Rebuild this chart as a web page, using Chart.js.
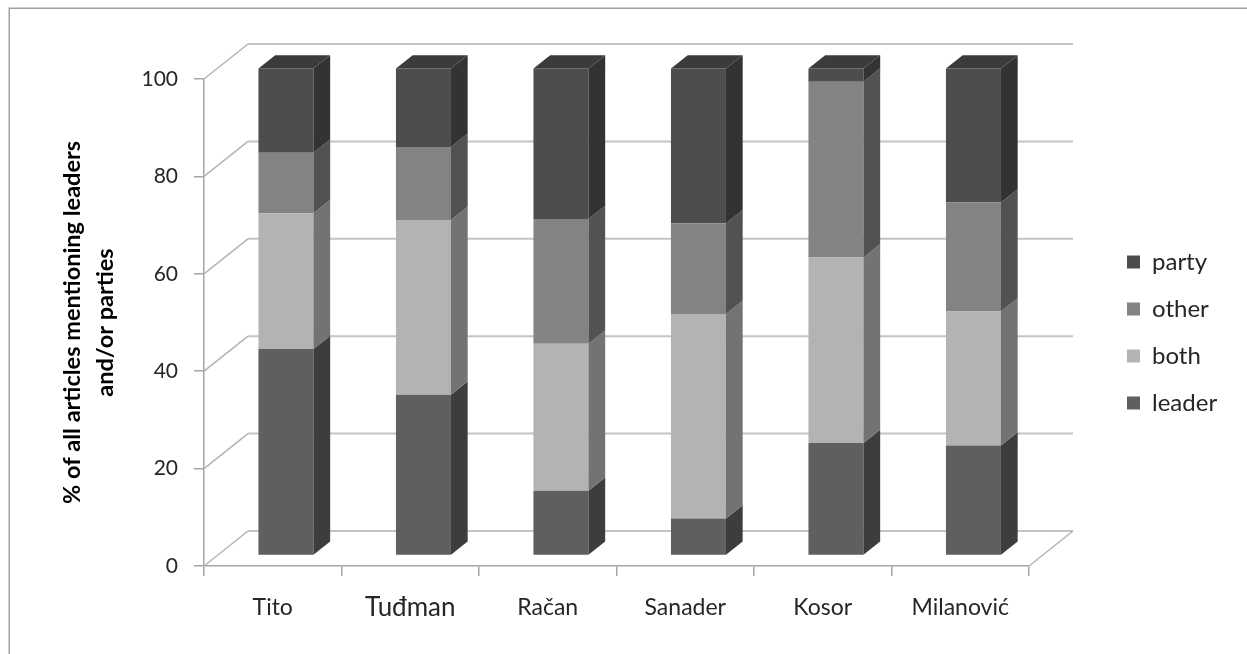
<!DOCTYPE html>
<html>
<head>
<meta charset="utf-8">
<title>Leaders and parties in articles</title>
<script src="https://cdn.jsdelivr.net/npm/chart.js@4.4.1/dist/chart.umd.min.js"></script>
<style>
  html, body { margin: 0; padding: 0; background: #ffffff; }
  canvas { display: block; }
</style>
</head>
<body>
<canvas id="chart" width="1247" height="654"></canvas>
<script>
// ---- data -------------------------------------------------------------
const categories = ['Tito', 'Tuđman', 'Račan', 'Sanader', 'Kosor', 'Milanović'];
const leader = [42.4, 33.0, 13.3, 7.6, 23.1, 22.6];
const both   = [27.9, 35.9, 30.2, 42.0, 38.1, 27.5];
const other  = [12.4, 15.0, 25.6, 18.6, 36.1, 22.4];
const party  = [17.3, 16.1, 30.9, 31.8, 2.7, 27.5];
const seriesNames = ['leader', 'both', 'other', 'party'];
const yRange = [0, 100];
const yStep = 20;
const yTitle = ['% of all articles mentioning leaders', 'and/or parties'];

// ---- styles -----------------------------------------------------------
const FACES = {
  leader: { front: '#5f5f5f', side: '#3d3d3d', top: '#474747' },
  both:   { front: '#b3b3b3', side: '#737373', top: '#8e8e8e' },
  other:  { front: '#838383', side: '#525252', top: '#666666' },
  party:  { front: '#4d4d4d', side: '#333333', top: '#3b3b3b' }
};
const FONT = 'Lato';
const TEXT = '#262626';
const AXIS = '#a6a6a6';
const GRID = '#c4c4c4';
// depth of the plot box; bars sit between the two depth fractions
const DEPTH = { dx: 44, dy: -35, front: 0.30, back: 0.68 };
const LABEL_SIZE = 23;
const BIG_LABELS = { 'Tuđman': 26 };

// plot box and legend placement (pixels)
const PLOT_RIGHT = 1028;
const LEGEND_BOX_LEFT = 1137;
const LEGEND = { size: 24, box: 13, padding: 23 };
const LEGEND_EXTRA = 11;

function seg(ctx, x1, y1, x2, y2) {
  ctx.beginPath();
  ctx.moveTo(x1, y1);
  ctx.lineTo(x2, y2);
  ctx.stroke();
}

const depthPlugin = {
  id: 'depthBox',
  beforeDraw(chart) {
    const { ctx } = chart;
    ctx.save();
    ctx.fillStyle = '#ffffff';
    ctx.fillRect(0, 0, chart.width, chart.height);
    ctx.strokeStyle = '#a0a0a0';
    ctx.lineWidth = 1.5;
    ctx.strokeRect(9.25, 8.25, chart.width + 40, chart.height + 40);
    ctx.restore();
  },
  beforeDatasetsDraw(chart) {
    const { ctx, chartArea: a, scales: { y } } = chart;
    const { dx, dy } = DEPTH;
    ctx.save();
    y.ticks.forEach(t => {
      const py = y.getPixelForValue(t.value);
      ctx.strokeStyle = GRID;
      ctx.lineWidth = 2;
      seg(ctx, a.left + dx, py + dy, a.right + dx, py + dy);
      ctx.strokeStyle = '#b4b4b4';
      ctx.lineWidth = 1.5;
      seg(ctx, a.left, py, a.left + dx, py + dy);
    });
    ctx.strokeStyle = '#b4b4b4';
    ctx.lineWidth = 1.5;
    seg(ctx, a.right, a.bottom, a.right + dx, a.bottom + dy);
    ctx.restore();
  },
  beforeDatasetDraw(chart) {
    const { ctx } = chart;
    ctx.save();
    ctx.translate(DEPTH.dx * DEPTH.front, DEPTH.dy * DEPTH.front);
  },
  afterDatasetDraw(chart) {
    chart.ctx.restore();
  },
  afterDatasetsDraw(chart) {
    const { ctx } = chart;
    const span = DEPTH.back - DEPTH.front;
    const ddx = DEPTH.dx * span, ddy = DEPTH.dy * span;
    ctx.save();
    ctx.translate(DEPTH.dx * DEPTH.front, DEPTH.dy * DEPTH.front);
    const topmost = [];
    chart.data.datasets.forEach((ds, di) => {
      const meta = chart.getDatasetMeta(di);
      const face = FACES[seriesNames[di]];
      meta.data.forEach((el, i) => {
        const { x, y, base, width } = el.getProps(['x', 'y', 'base', 'width'], true);
        const right = x + width / 2;
        if (Math.abs(base - y) > 0) {
          ctx.fillStyle = face.side;
          ctx.beginPath();
          ctx.moveTo(right, y);
          ctx.lineTo(right + ddx, y + ddy);
          ctx.lineTo(right + ddx, base + ddy);
          ctx.lineTo(right, base);
          ctx.closePath();
          ctx.fill();
          topmost[i] = { x, y, width, face };
        }
      });
    });
    topmost.forEach(t => {
      if (!t) return;
      const left = t.x - t.width / 2, right = t.x + t.width / 2;
      ctx.fillStyle = t.face.top;
      ctx.beginPath();
      ctx.moveTo(left, t.y);
      ctx.lineTo(left + ddx, t.y + ddy);
      ctx.lineTo(right + ddx, t.y + ddy);
      ctx.lineTo(right, t.y);
      ctx.closePath();
      ctx.fill();
    });
    ctx.restore();
  }
};

function build() {
  const canvas = document.getElementById('chart');
  const values = { leader, both, other, party };

  // legend column width: box + half font + widest text
  const mctx = canvas.getContext('2d');
  mctx.font = LEGEND.size + 'px ' + FONT;
  const widest = Math.max(...seriesNames.map(n => mctx.measureText(n).width));
  const colWidth = LEGEND.box + LEGEND.size / 2 + widest;
  const padRight = canvas.width - LEGEND_BOX_LEFT - colWidth;
  const rightGap = LEGEND_BOX_LEFT - LEGEND.padding - PLOT_RIGHT - LEGEND_EXTRA;

  const labelFont = c => {
    const big = BIG_LABELS[categories[c.index]];
    return big
      ? { family: FONT, size: big, lineHeight: (LABEL_SIZE * 1.2) / big }
      : { family: FONT, size: LABEL_SIZE, lineHeight: 1.2 };
  };

  new Chart(canvas, {
    type: 'bar',
    data: {
      labels: categories,
      datasets: seriesNames.map(name => ({
        label: name,
        data: values[name],
        backgroundColor: FACES[name].front,
        borderWidth: 0,
        clip: false,
        barPercentage: 0.4,
        categoryPercentage: 1.0
      }))
    },
    options: {
      responsive: false,
      animation: false,
      events: [],
      layout: { padding: { top: 79, left: 0, bottom: 28, right: padRight } },
      font: { family: FONT },
      scales: {
        x: {
          stacked: true,
          offset: true,
          grid: { offset: true, drawOnChartArea: false, drawTicks: true, tickLength: 10, color: AXIS, lineWidth: 1.5 },
          border: { display: true, color: AXIS, width: 1.5 },
          ticks: { autoSkip: false, maxRotation: 0, padding: 18, color: TEXT, font: labelFont },
          afterFit(s) { s.height = 60; }
        },
        y: {
          stacked: true,
          min: yRange[0],
          max: yRange[1],
          grid: { drawOnChartArea: false, drawTicks: true, tickLength: 10, color: AXIS, lineWidth: 1.5 },
          border: { display: true, color: AXIS, width: 1.5 },
          ticks: { stepSize: yStep, padding: 16, color: TEXT, font: { family: FONT, size: 21 } },
          title: {
            display: true,
            text: yTitle,
            color: '#000000',
            font: { family: FONT, size: 23.5, weight: 'bold', lineHeight: 33 / 23.5 },
            padding: { top: 55.5, bottom: 0 }
          },
          afterFit(s) { s.width = 204; }
        },
        gap: {
          type: 'linear',
          position: 'right',
          display: true,
          grid: { display: false },
          border: { display: false },
          ticks: { display: false },
          afterFit(s) { s.width = rightGap; }
        }
      },
      plugins: {
        tooltip: { enabled: false },
        legend: {
          position: 'right',
          fullSize: false,
          reverse: true,
          align: 'center',
          title: { display: true, text: '', padding: 0, font: { family: FONT, size: 20, lineHeight: 1 } },
          labels: {
            boxWidth: LEGEND.box,
            boxHeight: LEGEND.box,
            padding: LEGEND.padding,
            color: TEXT,
            font: { family: FONT, size: LEGEND.size }
          }
        }
      }
    },
    plugins: [depthPlugin]
  });
}

if (document.fonts && document.fonts.load) {
  Promise.all([
    document.fonts.load('21px ' + FONT),
    document.fonts.load('bold 22px ' + FONT)
  ]).then(build, build);
} else {
  build();
}
</script>
</body>
</html>
